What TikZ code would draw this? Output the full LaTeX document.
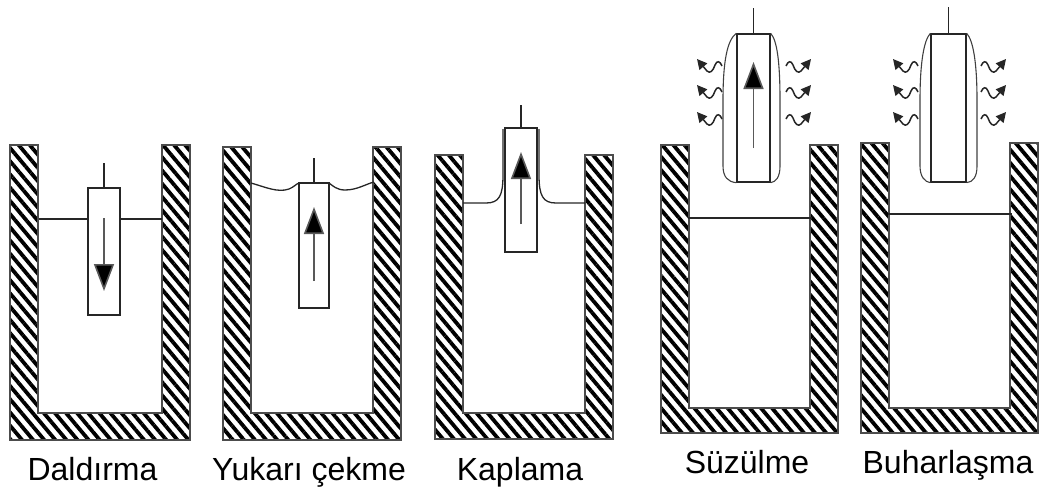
\documentclass[tikz,border=0pt]{standalone}
\usepackage{fontspec}
\setmainfont{Liberation Sans}
\usetikzlibrary{arrows.meta,patterns.meta}

% hatched U-shaped vessel: left, right, top, floor, bottom
\newcommand{\drawtank}[5]{%
  \draw[wall] (#1,#3) -- (#1,#5) -- (#2,#5) -- (#2,#3) -- ({#2-28},#3)
    -- ({#2-28},#4) -- ({#1+28},#4) -- ({#1+28},#3) -- cycle;}
% little wavy arrow for the evaporating solvent
\newcommand{\wisp}[3]{%
  \draw[vapour, shift={(#1,#2)}, xscale=#3] (0,0) .. controls (-2,-5) and (-5,-6) .. (-7,-1)
    .. controls (-9,5) and (-12,8) .. (-15,5) -- (-25,-7);}

\begin{document}
\begin{tikzpicture}[
                x=1pt, y=-1pt,
                wall/.style={draw=black!70, line width=1.2pt,
                  pattern={Lines[angle=-50, distance=8.5pt, line width=3.8pt]}},
                plate/.style={rectangle, draw=black!85, line width=1.3pt, inner sep=0pt, fill=white},
                rod/.style={black!85, line width=1.3pt},
                bath/.style={black!85, line width=1.3pt},
                film/.style={black!75, line width=1.1pt},
                lift/.style={black!65, line width=1.6pt, -{Triangle[length=27pt, width=20pt, fill=black]}},
                vapour/.style={black!85, line width=1.5pt, -{Triangle[length=10pt, width=10pt]}},
                label/.style={anchor=base, font=\fontsize{32}{38}\selectfont}
                ]
                \useasboundingbox (0,0) rectangle (1040,493);

                % Define the vessels
                \drawtank{10}{190}{145}{413}{440}
                \drawtank{223}{401}{147}{413}{440}
                \drawtank{435}{613}{155}{413}{439}
                \drawtank{661}{838}{145}{408}{433}
                \drawtank{861}{1038}{143}{408}{433}

                % Liquid surfaces
                \draw[bath] (39,219) -- (162,219);
                \draw[bath] (251,183) .. controls (265,187) and (278,193) .. (289,189) .. controls (294,187) and (296,184) .. (299,183);
                \draw[bath] (329,183) .. controls (333,186) and (337,190) .. (345,190) .. controls (357,190) and (366,184) .. (374,182);
                \draw[bath] (463,203) -- (486,203) .. controls (499,203) and (503,196) .. (503,175) -- (503,129);
                \draw[bath] (585,203) -- (556,203) .. controls (543,203) and (539,196) .. (539,175) -- (539,129);
                \draw[bath] (688,218) -- (812,218);
                \draw[bath] (888,214) -- (1012,214);

                % Define the nodes
                \node[plate, minimum width=32pt, minimum height=127pt] (p1) at (104,251.5) {};
                \node[plate, minimum width=30pt, minimum height=125pt] (p2) at (314,245.5) {};
                \node[plate, minimum width=32pt, minimum height=124pt] (p3) at (521,190) {};
                \node[plate, minimum width=33pt, minimum height=148pt] (p4) at (753.5,108) {};
                \node[plate, minimum width=35pt, minimum height=148pt] (p5) at (948.5,108) {};

                \coordinate (r1) at (104,163);
                \coordinate (r2) at (314,158);
                \coordinate (r3) at (521,105);
                \coordinate (r4) at (753.5,8);
                \coordinate (r5) at (948.5,7);

                % Draw the rods
                \draw[rod] (p1.north) -- (r1);
                \draw[rod] (p2.north) -- (r2);
                \draw[rod] (p3.north) -- (r3);
                \draw[rod] (p4.north) -- (r4);
                \draw[rod] (p5.north) -- (r5);

                % Wet film around the drained plates
                \draw[film] (p4.north west) .. controls (727,40) and (723,62) .. (723,100) -- (723,166)
                  .. controls (723,177) and (728,182) .. (p4.south west);
                \draw[film] (p4.north east) .. controls (777,40) and (780,62) .. (780,100) -- (780,166)
                  .. controls (780,177) and (776,182) .. (p4.south east);
                \draw[film] (p5.north west) .. controls (924,40) and (920,62) .. (920,100) -- (920,166)
                  .. controls (920,177) and (925,182) .. (p5.south west);
                \draw[film] (p5.north east) .. controls (973,40) and (977,62) .. (977,100) -- (977,166)
                  .. controls (977,177) and (973,182) .. (p5.south east);

                % Draw the arrows
                \draw[lift] (104,218) -- (104,291);
                \draw[lift] (314,281) -- (314,207);
                \draw[lift] (521,224) -- (521,152);
                \draw[lift] (753.5,148) -- (753.5,62);

                \foreach \y in {66,92,119} {
                  \wisp{722}{\y}{1}
                  \wisp{786}{\y}{-1}
                  \wisp{918}{\y}{1}
                  \wisp{981}{\y}{-1}
                }

                % Captions
                \node[label] (l1) at (92.5,480) {Daldırma};
                \node[label] (l2) at (309,480) {Yukarı çekme};
                \node[label] (l3) at (520,480) {Kaplama};
                \node[label] (l4) at (747,473) {Süzülme};
                \node[label] (l5) at (948,473) {Buharlaşma};
            \end{tikzpicture}
\end{document}
